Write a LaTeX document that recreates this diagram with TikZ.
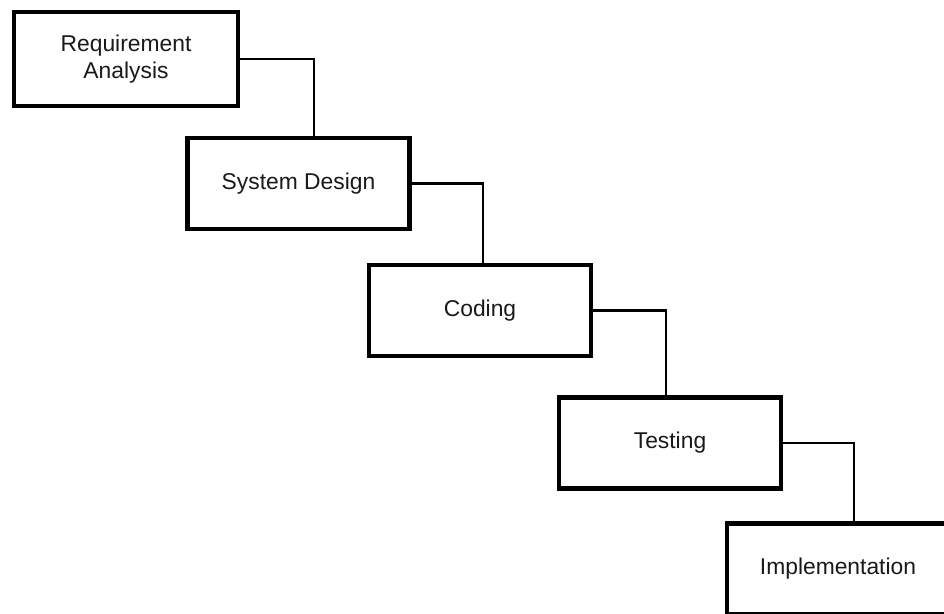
\documentclass[tikz,border=0pt]{standalone}
\usepackage{fontspec}
\setmainfont{Liberation Sans}
\begin{document}
\begin{tikzpicture}
[x=0.02cm,y=-0.02cm,every node/.style={draw,line width=2.6pt,minimum width=4.44cm,minimum height=1.82cm,align=center,text=black!90,font=\fontsize{13}{15.3}\selectfont}]
\useasboundingbox (0,0) rectangle (944,614);
\clip (0,0) rectangle (944,614);
\node[minimum width=4.48cm,minimum height=1.88cm] (r1) at (126,59) {Requirement\\Analysis};
\node (r2) at (298.5,183.5) {System Design};
\node (r3) at (480,310.5) {Coding};
\node (r4) at (670,443) {Testing};
\node (r5) at (838,569) {Implementation};
\foreach \from/\to/\dx in {r1/r2/15.5,r2/r3/3,r3/r4/-4,r4/r5/16}
\draw[line width=1.5pt] (\from.east) -| ([xshift=\dx*0.02cm]\to.north);
\end{tikzpicture}
\end{document}
